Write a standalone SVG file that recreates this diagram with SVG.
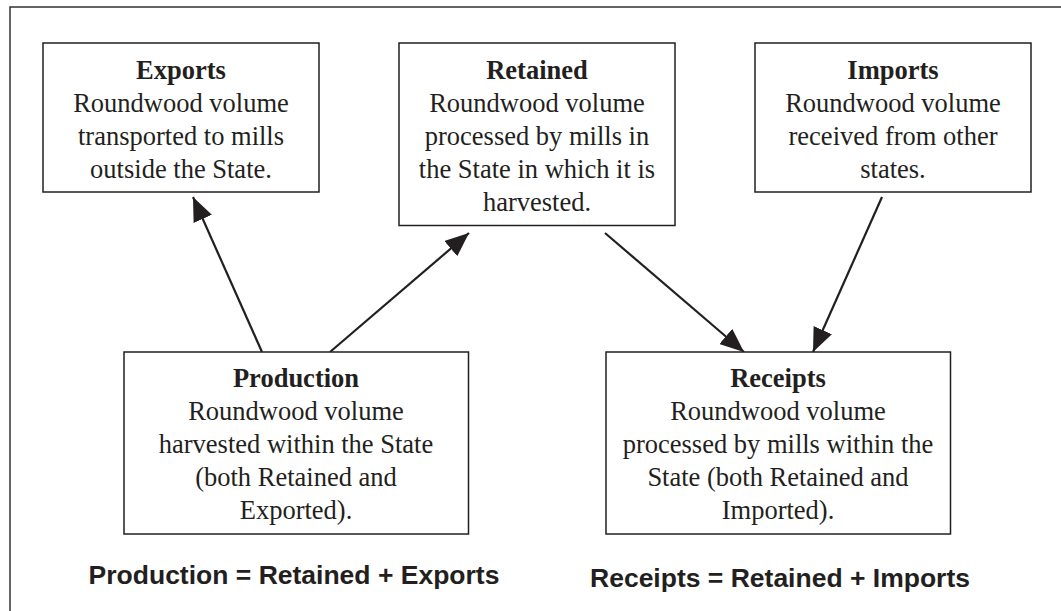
<svg xmlns="http://www.w3.org/2000/svg" width="1061" height="611" viewBox="0 0 1061 611">
<defs>
<style>
.box{fill:#fff;stroke:#231f20;stroke-width:1.5}
.t{font-family:"Liberation Serif","Times New Roman",serif;font-size:26.5px;fill:#231f20;text-anchor:middle}
.b{font-weight:bold}
.f{font-family:"Liberation Sans",Arial,sans-serif;font-size:26.5px;font-weight:bold;fill:#231f20;text-anchor:middle}
.c{stroke:#231f20;stroke-width:2.2;fill:none;marker-end:url(#ah)}
</style>
<marker id="ah" markerWidth="26" markerHeight="20" refX="24" refY="10" orient="auto" markerUnits="userSpaceOnUse">
<path d="M0,0 L24,10 L0,20 Z" fill="#231f20"/>
</marker>
</defs>
<rect width="1061" height="611" fill="#fff"/>
<rect x="10" y="7" width="1070" height="620" fill="none" stroke="#333" stroke-width="1.5"/>
<g id="connectors">
<line class="c" x1="262" y1="352" x2="193" y2="197"/>
<line class="c" x1="330" y1="352" x2="469" y2="233"/>
<line class="c" x1="605" y1="233" x2="744" y2="352"/>
<line class="c" x1="882" y1="197" x2="813" y2="352"/>
</g>
<g id="exports">
<rect class="box" x="43" y="43" width="276" height="149"/>
<text class="t" x="181" y="79"><tspan class="b">Exports</tspan><tspan x="181" y="112">Roundwood volume</tspan><tspan x="181" y="145">transported to mills</tspan><tspan x="181" y="178">outside the State.</tspan></text>
</g>
<g id="retained">
<rect class="box" x="399" y="43" width="276" height="182.5"/>
<text class="t" x="537" y="79"><tspan class="b">Retained</tspan><tspan x="537" y="112">Roundwood volume</tspan><tspan x="537" y="145">processed by mills in</tspan><tspan x="537" y="178">the State in which it is</tspan><tspan x="537" y="211">harvested.</tspan></text>
</g>
<g id="imports">
<rect class="box" x="755" y="43" width="276" height="149"/>
<text class="t" x="893" y="79"><tspan class="b">Imports</tspan><tspan x="893" y="112">Roundwood volume</tspan><tspan x="893" y="145">received from other</tspan><tspan x="893" y="178">states.</tspan></text>
</g>
<g id="production">
<rect class="box" x="124" y="352" width="344.5" height="182"/>
<text class="t" x="296" y="387"><tspan class="b">Production</tspan><tspan x="296" y="420">Roundwood volume</tspan><tspan x="296" y="453">harvested within the State</tspan><tspan x="296" y="486">(both Retained and</tspan><tspan x="296" y="519">Exported).</tspan></text>
</g>
<g id="receipts">
<rect class="box" x="606" y="352" width="344.5" height="182"/>
<text class="t" x="778" y="387"><tspan class="b">Receipts</tspan><tspan x="778" y="420">Roundwood volume</tspan><tspan x="778" y="453">processed by mills within the</tspan><tspan x="778" y="486">State (both Retained and</tspan><tspan x="778" y="519">Imported).</tspan></text>
</g>
<g id="formulas">
<text class="f" x="294" y="584">Production = Retained + Exports</text>
<text class="f" x="780" y="587">Receipts = Retained + Imports</text>
</g>
</svg>
